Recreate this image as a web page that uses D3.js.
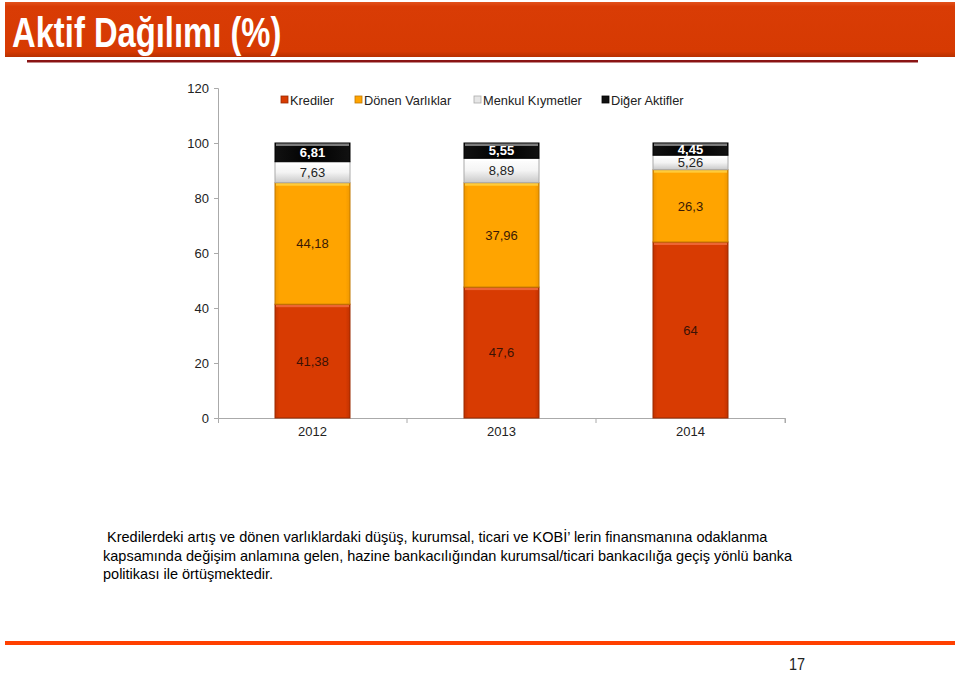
<!DOCTYPE html>
<html><head><meta charset="utf-8">
<script src="https://cdn.jsdelivr.net/npm/d3@7/dist/d3.min.js"></script>
<style>body{margin:0;background:#fff;}svg{display:block;font-family:"Liberation Sans",Arial,sans-serif;}</style>
</head><body>
<svg id="c" width="960" height="673"></svg>
<script>
const years = ["2012","2013","2014"];
const seriesNames = ["Krediler","Dönen Varlıklar","Menkul Kıymetler","Diğer Aktifler"];
const krediler = [41.38, 47.6, 64];
const donenVarliklar = [44.18, 37.96, 26.3];
const menkulKiymetler = [7.63, 8.89, 5.26];
const digerAktifler = [6.81, 5.55, 4.45];
const yTicks = [0,20,40,60,80,100,120];
const titleText = "Aktif Dağılımı (%)";
const noteLines = [
  " Kredilerdeki artış ve dönen varlıklardaki düşüş, kurumsal, ticari ve KOBİ’ lerin finansmanına odaklanma",
  "kapsamında değişim anlamına gelen, hazine bankacılığından kurumsal/ticari bankacılığa geçiş yönlü banka",
  "politikası ile örtüşmektedir."
];
const pageNo = "17";

const svg = d3.select("#c");
const defs = svg.append("defs");

function vgrad(id, stops){
  const g = defs.append("linearGradient").attr("id",id).attr("x1",0).attr("y1",0).attr("x2",0).attr("y2",1);
  stops.forEach(s=>g.append("stop").attr("offset",s[0]).attr("stop-color",s[1]));
}
function hgrad(id, stops){
  const g = defs.append("linearGradient").attr("id",id).attr("x1",0).attr("y1",0).attr("x2",1).attr("y2",0);
  stops.forEach(s=>g.append("stop").attr("offset",s[0]).attr("stop-color",s[1]));
}
vgrad("banner",[[0,"#e2521c"],[0.08,"#d93c05"],[0.9,"#d63a02"],[1,"#b83000"]]);
hgrad("gRed",[[0,"#c23200"],[0.06,"#d83b02"],[0.94,"#d83b02"],[1,"#c23200"]]);
hgrad("gOr",[[0,"#f09800"],[0.06,"#ffa400"],[0.94,"#ffa400"],[1,"#f09800"]]);
vgrad("gGrey",[[0,"#ffffff"],[0.5,"#f4f4f4"],[1,"#c9c9c9"]]);
hgrad("gBlk",[[0,"#111"],[0.5,"#000"],[1,"#111"]]);
const fills = ["url(#gRed)","url(#gOr)","url(#gGrey)","url(#gBlk)"];
const topHi = ["#f06a3a","#ffd040","#ffffff","#888"];
const strokes = ["#9a2a00","#c07800","#aaa","#000"];
const legendCols = ["#d83b02","#ffa400","#e6e6e6","#111"];
const labelCols = ["#3b1205","#3b1a05","#222","#fff"];

// Banner
svg.append("rect").attr("x",5).attr("y",2).attr("width",950).attr("height",55).attr("fill","url(#banner)");
svg.append("text").attr("transform","translate(12,47) scale(0.78,1)").attr("fill","#fff")
  .attr("font-size",42).attr("font-weight","bold")
  .text(titleText);
svg.append("rect").attr("x",27).attr("y",60).attr("width",891).attr("height",2.5).attr("fill","#8a1414");

// Chart
const x = d3.scaleBand().domain(years).range([218,785]).paddingInner(0).paddingOuter(0);
const y = d3.scaleLinear().domain([0,120]).range([418,88]);
const barW = 75;

const data = years.map((yr,i)=>({year:yr, vals:[krediler[i],donenVarliklar[i],menkulKiymetler[i],digerAktifler[i]]}));
const stackGen = d3.stack().keys([0,1,2,3]).value((d,k)=>d.vals[k]);
const stacked = stackGen(data);

// axes
const yAxis = d3.axisLeft(y).tickValues(yTicks).tickSize(4).tickFormat(d3.format("d"));
const gy = svg.append("g").attr("transform","translate(218,0)").call(yAxis);
gy.selectAll("text").attr("font-size",13).attr("fill","#222").attr("x",-9);
gy.selectAll("line,path").attr("stroke","#aaa");

const xAxis = d3.axisBottom(x).tickSize(5).tickSizeOuter(5).tickFormat(d=>d);
const gx = svg.append("g").attr("transform","translate(0,418)").call(xAxis);
gx.selectAll(".tick line").attr("transform",`translate(${x.bandwidth()/2},0)`);
gx.selectAll("line,path").attr("stroke","#aaa");
gx.selectAll("text").attr("font-size",13).attr("fill","#222").attr("y",9).attr("dy","0.71em");

stacked.forEach((layer,k)=>{
  const g = svg.append("g");
  layer.forEach((d,i)=>{
    const cx = x(years[i]) + x.bandwidth()/2;
    const y0 = y(d[1]), y1 = y(d[0]);
    g.append("rect").attr("x",cx-barW/2).attr("y",y0).attr("width",barW).attr("height",y1-y0)
      .attr("fill",fills[k]).attr("stroke",strokes[k]).attr("stroke-width",1);
    g.append("rect").attr("x",cx-barW/2+1).attr("y",y0+0.5).attr("width",barW-2).attr("height",2.5)
      .attr("fill",topHi[k]).attr("opacity",0.9);
    const v = data[i].vals[k];
    g.append("text").attr("x",cx).attr("y",(y0+y1)/2).attr("dy","0.36em").attr("text-anchor","middle")
      .attr("font-size",13).attr("font-weight",k===3?"bold":"normal").attr("fill",labelCols[k])
      .text(String(v).replace(".",","));
  });
});

// legend
const legX = [281,355,474,602];
seriesNames.forEach((n,k)=>{
  svg.append("rect").attr("x",legX[k]).attr("y",96).attr("width",7).attr("height",7)
    .attr("fill",legendCols[k]).attr("stroke",k===2?"#aaa":strokes[k]).attr("stroke-width",0.8);
  svg.append("text").attr("x",legX[k]+9).attr("y",104.5).attr("font-size",12.8).attr("fill","#222").text(n);
});

// note
noteLines.forEach((t,i)=>{
  svg.append("text").attr("x",103).attr("y",542+i*18.5).attr("font-size",14.5).attr("fill","#000")
    .attr("xml:space","preserve").style("white-space","pre").text(t);
});

// footer
svg.append("rect").attr("x",5).attr("y",641).attr("width",950).attr("height",4).attr("fill","#ff4000");
svg.append("text").attr("transform","translate(789,670) scale(0.85,1)").attr("font-size",17)
  .attr("fill","#222").text(pageNo);
</script>
</body></html>
